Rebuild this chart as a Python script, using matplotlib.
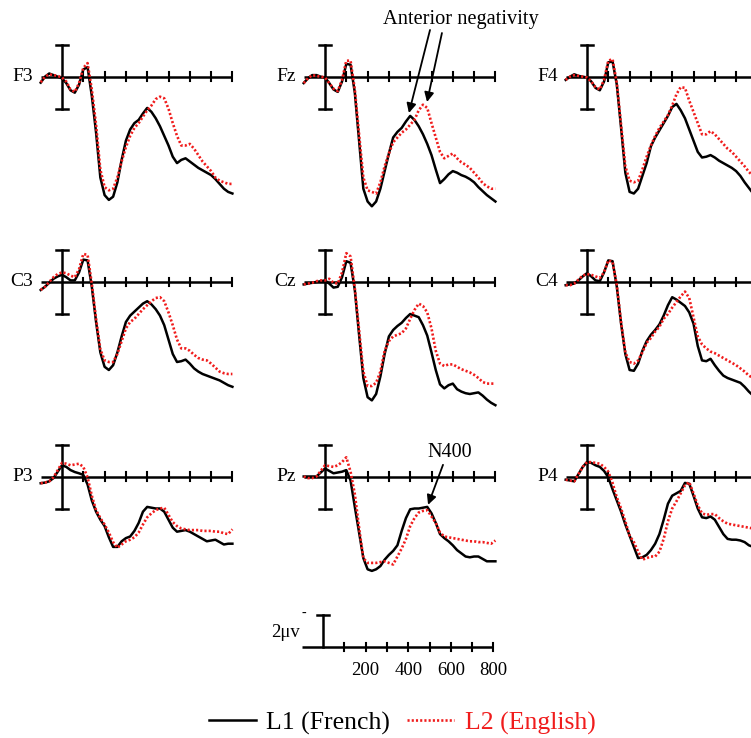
import matplotlib
matplotlib.use("Agg")
import matplotlib.pyplot as plt

# ---------------- data (µV, positive plotted downward; time in ms) ----------------
time_ms = list(range(-100, 801, 20))

F3_L1 = [0.37, 0.0, -0.2, -0.1, 0.0, 0.1, 0.4, 0.85, 1.0, 0.5,
         -0.45, -0.6, 1.2, 3.5, 6.3, 7.4, 7.7, 7.5, 6.6, 5.2,
         4.0, 3.3, 2.9, 2.7, 2.3, 1.95, 2.2, 2.6, 3.1, 3.7,
         4.3, 5.0, 5.4, 5.2, 5.1, 5.3, 5.5, 5.7, 5.85, 6.0,
         6.15, 6.4, 6.7, 7.0, 7.2, 7.3]
F3_L2 = [0.35, 0.0, -0.15, -0.1, -0.05, 0.05, 0.3, 0.8, 0.95, 0.4,
         -0.55, -0.85, 0.8, 3.0, 5.8, 6.9, 7.1, 7.0, 6.3, 5.3,
         4.4, 3.7, 3.2, 2.9, 2.5, 2.1, 1.8, 1.4, 1.25, 1.35,
         2.0, 2.9, 3.7, 4.3, 4.3, 4.2, 4.5, 4.9, 5.3, 5.6,
         5.9, 6.3, 6.5, 6.6, 6.7, 6.7]

Fz_L1 = [0.4, 0.1, -0.1, -0.1, 0.0, 0.05, 0.4, 0.8, 0.95, 0.3,
         -0.8, -0.75, 1.0, 4.0, 7.0, 7.8, 8.1, 7.8, 7.0, 5.9,
         4.8, 3.8, 3.45, 3.2, 2.8, 2.45, 2.7, 3.1, 3.6, 4.2,
         4.9, 5.8, 6.65, 6.4, 6.1, 5.9, 6.0, 6.15, 6.25, 6.4,
         6.6, 6.9, 7.15, 7.4, 7.6, 7.8]
Fz_L2 = [0.4, 0.1, -0.1, -0.05, 0.0, 0.05, 0.4, 0.75, 0.9, 0.2,
         -1.0, -1.0, 0.8, 3.6, 6.3, 7.1, 7.2, 7.3, 6.6, 5.6,
         4.8, 4.1, 3.8, 3.5, 3.3, 3.0, 2.7, 2.1, 1.75, 1.95,
         2.9, 3.8, 4.7, 5.1, 4.95, 4.8, 5.1, 5.35, 5.5, 5.7,
         6.0, 6.3, 6.65, 6.85, 7.0, 7.0]

F4_L1 = [0.2, 0.0, -0.15, -0.05, 0.0, 0.05, 0.3, 0.7, 0.85, 0.3,
         -0.9, -0.95, 0.5, 3.2, 6.0, 7.2, 7.3, 7.0, 6.2, 5.4,
         4.35, 3.8, 3.35, 2.9, 2.45, 1.9, 1.7, 2.1, 2.6, 3.3,
         4.0, 4.7, 5.05, 5.0, 4.9, 5.05, 5.25, 5.4, 5.55, 5.7,
         5.9, 6.2, 6.6, 6.95, 7.3, 7.6]
F4_L2 = [0.2, 0.0, -0.1, -0.05, 0.0, 0.05, 0.3, 0.65, 0.8, 0.2,
         -1.0, -1.1, 0.4, 3.0, 5.6, 6.5, 6.6, 6.5, 5.8, 5.0,
         4.3, 3.7, 3.2, 2.8, 2.4, 1.8, 1.1, 0.65, 0.7, 1.5,
         2.2, 2.9, 3.6, 3.6, 3.4, 3.6, 3.9, 4.2, 4.5, 4.7,
         5.0, 5.3, 5.6, 5.95, 6.2, 6.4]

C3_L1 = [0.5, 0.3, 0.05, -0.2, -0.35, -0.45, -0.3, -0.1, -0.1, -0.6,
         -1.4, -1.35, 0.3, 2.5, 4.4, 5.3, 5.5, 5.2, 4.4, 3.4,
         2.5, 2.1, 1.85, 1.6, 1.35, 1.2, 1.4, 1.7, 2.1, 2.7,
         3.6, 4.5, 5.0, 4.95, 4.85, 5.1, 5.4, 5.6, 5.75, 5.85,
         5.95, 6.05, 6.15, 6.3, 6.45, 6.55]
C3_L2 = [0.5, 0.3, 0.0, -0.3, -0.5, -0.6, -0.55, -0.4, -0.3, -0.8,
         -1.75, -1.7, 0.1, 2.3, 4.2, 4.9, 5.0, 5.0, 4.5, 3.7,
         2.9, 2.5, 2.3, 2.0, 1.7, 1.45, 1.2, 1.0, 0.95, 1.2,
         1.9, 2.7, 3.6, 4.15, 4.15, 4.3, 4.55, 4.75, 4.85, 4.9,
         5.1, 5.35, 5.6, 5.7, 5.75, 5.75]

Cz_L1 = [0.15, 0.1, 0.05, 0.0, -0.05, -0.1, 0.1, 0.35, 0.3, -0.3,
         -1.3, -1.2, 0.5, 3.3, 6.0, 7.2, 7.4, 7.0, 5.9, 4.5,
         3.4, 3.0, 2.75, 2.55, 2.25, 2.0, 2.1, 2.2, 2.7, 3.35,
         4.4, 5.5, 6.4, 6.65, 6.45, 6.35, 6.7, 6.85, 6.95, 7.0,
         6.95, 6.9, 7.1, 7.35, 7.55, 7.7]
Cz_L2 = [0.15, 0.1, 0.05, -0.05, -0.1, -0.1, -0.2, 0.05, 0.1, -0.6,
         -1.8, -1.6, 0.4, 3.0, 5.6, 6.5, 6.5, 6.3, 5.6, 4.3,
         3.7, 3.4, 3.3, 3.2, 2.9, 2.3, 1.75, 1.35, 1.5, 1.9,
         2.9, 4.3, 5.1, 5.25, 5.15, 5.15, 5.3, 5.45, 5.55, 5.65,
         5.8, 6.0, 6.25, 6.35, 6.35, 6.35]

C4_L1 = [0.2, 0.15, 0.1, -0.1, -0.35, -0.55, -0.35, -0.1, -0.05, -0.6,
         -1.35, -1.3, 0.3, 2.6, 4.5, 5.5, 5.55, 5.1, 4.3, 3.7,
         3.3, 3.0, 2.65, 2.1, 1.45, 0.95, 1.1, 1.3, 1.5, 1.9,
         2.6, 4.0, 4.9, 4.95, 4.8, 5.2, 5.55, 5.85, 6.0, 6.1,
         6.2, 6.3, 6.55, 6.85, 7.1, 7.3]
C4_L2 = [0.2, 0.2, 0.1, -0.15, -0.4, -0.5, -0.45, -0.35, -0.25, -0.6,
         -1.35, -1.25, 0.2, 2.5, 4.4, 5.0, 5.1, 4.9, 4.4, 3.8,
         3.5, 3.1, 2.8, 2.3, 2.0, 1.6, 1.25, 0.9, 0.6, 1.0,
         2.2, 3.4, 3.9, 4.15, 4.35, 4.45, 4.6, 4.75, 4.9, 5.05,
         5.2, 5.4, 5.6, 5.85, 6.0, 6.1]

P3_L1 = [0.42, 0.38, 0.3, 0.1, -0.3, -0.7, -0.6, -0.4, -0.28, -0.2,
         -0.1, 0.5, 1.5, 2.2, 2.7, 3.1, 3.8, 4.4, 4.4, 4.05,
         3.85, 3.75, 3.4, 2.9, 2.2, 1.9, 1.95, 2.0, 2.0, 2.2,
         2.7, 3.2, 3.45, 3.4, 3.35, 3.45, 3.6, 3.75, 3.9, 4.05,
         4.0, 3.95, 4.1, 4.25, 4.2, 4.2]
P3_L2 = [0.42, 0.38, 0.3, 0.05, -0.4, -0.85, -0.8, -0.7, -0.75, -0.8,
         -0.6, 0.05, 1.2, 2.1, 2.6, 3.0, 3.5, 4.1, 4.45, 4.25,
         4.05, 3.95, 3.8, 3.5, 3.0, 2.55, 2.3, 2.1, 2.0, 1.95,
         2.4, 2.85, 3.1, 3.25, 3.3, 3.35, 3.35, 3.35, 3.4, 3.4,
         3.4, 3.45, 3.45, 3.55, 3.6, 3.3]

Pz_L1 = [0.0, 0.0, 0.0, 0.0, -0.25, -0.5, -0.35, -0.2, -0.25, -0.3,
         -0.4, 0.25, 1.9, 3.5, 5.1, 5.8, 5.9, 5.8, 5.6, 5.2,
         4.9, 4.65, 4.3, 3.4, 2.6, 2.05, 2.0, 2.0, 1.95, 1.9,
         2.3, 2.9, 3.6, 3.85, 4.05, 4.3, 4.6, 4.8, 5.0, 5.05,
         5.0, 5.0, 5.15, 5.3, 5.3, 5.3]
Pz_L2 = [0.0, 0.1, 0.1, 0.0, -0.35, -0.7, -0.65, -0.6, -0.7, -0.9,
         -1.2, -0.3, 1.1, 3.2, 5.1, 5.4, 5.4, 5.4, 5.35, 5.3,
         5.4, 5.5, 5.0, 4.5, 3.9, 3.1, 2.6, 2.25, 2.15, 2.1,
         2.5, 2.9, 3.5, 3.75, 3.8, 3.85, 3.9, 3.95, 4.0, 4.05,
         4.05, 4.1, 4.1, 4.15, 4.2, 4.0]

P4_L1 = [0.2, 0.25, 0.3, -0.15, -0.6, -0.9, -0.85, -0.7, -0.6, -0.35,
         0.05, 0.8, 1.5, 2.2, 3.0, 3.7, 4.4, 5.1, 5.05, 4.9,
         4.6, 4.2, 3.6, 2.7, 1.7, 1.2, 1.05, 0.9, 0.4, 0.45,
         1.2, 2.0, 2.55, 2.6, 2.5, 2.7, 3.15, 3.6, 3.9, 3.95,
         3.95, 4.0, 4.1, 4.3, 4.4, 4.5]
P4_L2 = [0.2, 0.25, 0.3, -0.15, -0.6, -0.9, -0.9, -0.85, -0.8, -0.6,
         -0.3, 0.4, 1.3, 2.0, 2.8, 3.7, 4.1, 4.7, 5.2, 5.1,
         5.0, 5.0, 4.7, 3.9, 2.8, 2.0, 1.55, 1.05, 0.55, 0.35,
         1.05, 1.8, 2.3, 2.4, 2.35, 2.35, 2.6, 2.8, 2.95, 3.0,
         3.05, 3.1, 3.15, 3.2, 3.25, 3.3]

electrodes = [["F3", "Fz", "F4"], ["C3", "Cz", "C4"], ["P3", "Pz", "P4"]]
series = {
    "F3": (F3_L1, F3_L2), "Fz": (Fz_L1, Fz_L2), "F4": (F4_L1, F4_L2),
    "C3": (C3_L1, C3_L2), "Cz": (Cz_L1, Cz_L2), "C4": (C4_L1, C4_L2),
    "P3": (P3_L1, P3_L2), "Pz": (Pz_L1, Pz_L2), "P4": (P4_L1, P4_L2),
}
axis_ticks = [100, 200, 300, 400, 500, 600, 700, 800]
scale_labels = [200, 400, 600, 800]
legend_labels = ["L1 (French)", "L2 (English)"]

# ---------------- layout ----------------
W, H = 751, 738
PX_MS, PX_UV = 0.213, 16.0
XMIN, XMAX = -120, 820
YTOP, YBOT = -2.6, 9.0
SERIF = ["Liberation Serif", "DejaVu Serif"]
RED = "#f01c1c"

fig = plt.figure(figsize=(W / 100, H / 100), dpi=100)
fig.patch.set_facecolor("white")


def make_ax(x0, y0):
    left = x0 + XMIN * PX_MS
    width = (XMAX - XMIN) * PX_MS
    top = y0 + YTOP * PX_UV
    height = (YBOT - YTOP) * PX_UV
    ax = fig.add_axes([left / W, 1 - (top + height) / H, width / W, height / H])
    ax.set_xlim(XMIN, XMAX)
    ax.set_ylim(YBOT, YTOP)
    ax.axis("off")
    return ax


def draw_axes(ax, full_bar=True):
    ax.plot([-100, 800], [0, 0], color="k", lw=1.8, solid_capstyle="butt")
    for t in axis_ticks:
        ax.plot([t, t], [-0.28, 0.28], color="k", lw=1.5)
    if full_bar:
        ax.plot([0, 0], [-2, 2], color="k", lw=1.8)
        ax.plot([-27, 27], [2, 2], color="k", lw=1.8)
    else:
        ax.plot([0, 0], [-2, 0], color="k", lw=1.8)
    ax.plot([-27, 27], [-2, -2], color="k", lw=1.8)


col_x0 = [62, 325, 587]
row_y0 = [76.7, 282, 476.5]
axes = {}
handles = None
for r, row in enumerate(electrodes):
    for c, name in enumerate(row):
        ax = make_ax(col_x0[c], row_y0[r])
        axes[name] = ax
        draw_axes(ax)
        l1, l2 = series[name]
        h1, = ax.plot(time_ms, l1, color="k", lw=1.8, clip_on=False)
        h2, = ax.plot(time_ms, l2, color=RED, lw=1.9, ls=(0, (0.8, 0.8)), clip_on=False)
        handles = (h1, h2)
        ax.text(-135, 0, name, ha="right", va="center", fontsize=14, family=SERIF)

# annotations
axz = axes["Fz"]
axz.text(272, -3.55, "Anterior negativity", ha="left", va="center", fontsize=14.7, family=SERIF)
arrow_kw = dict(arrowstyle="-|>", color="k", lw=1.3, mutation_scale=14, shrinkA=0, shrinkB=0)
axz.annotate("", xy=(394, 2.27), xytext=(493, -2.92), arrowprops=arrow_kw, annotation_clip=False)
axz.annotate("", xy=(479, 1.58), xytext=(549, -2.73), arrowprops=arrow_kw, annotation_clip=False)

axp = axes["Pz"]
axp.text(587, -1.5, "N400", ha="center", va="center", fontsize=14.5, family=SERIF)
axp.annotate("", xy=(484, 1.77), xytext=(554, -0.73), arrowprops=arrow_kw, annotation_clip=False)

# scale panel
axs = make_ax(323, 647)
draw_axes(axs, full_bar=False)
for v in scale_labels:
    axs.text(v, 1.5, str(v), ha="center", va="center", fontsize=13.5, family=SERIF)
axs.text(-108, -0.9, "2\u03bcv", ha="right", va="center", fontsize=13.5, family=SERIF)
axs.text(-88, -2.1, "-", ha="center", va="center", fontsize=10, family=SERIF)

# legend
leg = fig.legend(handles, legend_labels, loc="center",
                 bbox_to_anchor=(402 / W, 1 - 723 / H), ncol=2, frameon=False,
                 prop={"family": SERIF, "size": 18.5}, handlelength=1.85,
                 handletextpad=0.4, columnspacing=0.65)
leg.get_texts()[1].set_color(RED)

fig.savefig("out.png", dpi=100, facecolor="white")
